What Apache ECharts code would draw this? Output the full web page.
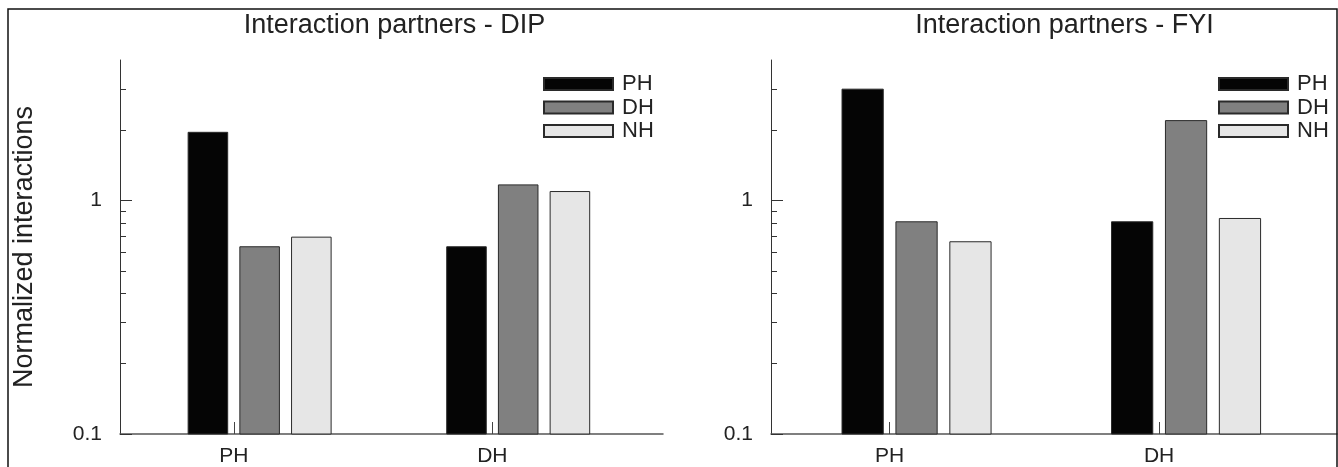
<!DOCTYPE html>
<html><head><meta charset="utf-8">
<script src="https://cdn.jsdelivr.net/npm/echarts@6/dist/echarts.min.js"></script>
<style>html,body{margin:0;padding:0;background:#fff}#c{width:1338px;height:467px}</style>
</head><body><div id="c"></div>
<script>
// ---- data ----
const categories = ['PH', 'DH'];
const seriesNames = ['PH', 'DH', 'NH'];
const panelTitles = ['Interaction partners - DIP', 'Interaction partners - FYI'];
const yAxisTitle = 'Normalized interactions';
const dipPH = [1.96, 0.634];
const dipDH = [0.634, 1.167];
const dipNH = [0.697, 1.093];
const fyiPH = [3.00, 0.811];
const fyiDH = [0.811, 2.20];
const fyiNH = [0.666, 0.838];
const yTickLabels = [0.1, 1];
const yMinorTicks = [0.2, 0.3, 0.4, 0.5, 0.6, 0.7, 0.8, 0.9, 2, 3];
const yMajorTicks = [0.1, 1];

// ---- style / layout ----
const FONT = 'Liberation Sans, Arial, sans-serif';
const TXT = '#222';
const Y_MIN = 0.1, Y_MAX = 4;
const X_MIN = 0.56, X_MAX = 2.66;
const BAR_W = 0.153;
const slotOffsets = [-0.1, 0.1, 0.3];
const colors = ['#050505', '#808080', '#e6e6e6'];
const grids = [
  {left: 120, top: 60, width: 543, height: 375},
  {left: 771, top: 60, width: 566, height: 375}
];
const titleCenters = [389.5, 1059.5];
const legendLefts = [538, 1213];

const chart = echarts.init(document.getElementById('c'), null, {renderer: 'canvas'});

function xAxis(gi) {
  return {
    type: 'value', gridIndex: gi, min: X_MIN, max: X_MAX,
    axisLine: {show: true, onZero: false, lineStyle: {color: '#555', width: 1.5}},
    axisTick: {show: true, inside: true, length: 12, customValues: [1, 2], lineStyle: {color: '#444', width: 1}},
    axisLabel: {customValues: [1, 2], formatter: v => categories[Math.round(v) - 1], fontSize: 21, margin: 12, color: TXT, fontFamily: FONT},
    splitLine: {show: false}
  };
}
function yAxisMain(gi, withName) {
  const a = {
    type: 'log', logBase: 10, gridIndex: gi, min: Y_MIN, max: Y_MAX, position: 'left',
    axisLine: {show: true, lineStyle: {color: '#333', width: 1}},
    axisTick: {show: true, inside: true, length: 6, customValues: yMinorTicks, lineStyle: {color: '#333', width: 1}},
    axisLabel: {customValues: yTickLabels, formatter: v => String(Number(v.toPrecision(3))), fontSize: 21, margin: 18, color: TXT, fontFamily: FONT},
    splitLine: {show: false}, minorTick: {show: false}
  };
  if (withName) {
    a.name = yAxisTitle;
    a.nameLocation = 'middle';
    a.nameGap = 82;
    a.nameTextStyle = {fontSize: 27, color: TXT, fontFamily: FONT};
  }
  return a;
}
function yAxisMajor(gi) {
  return {
    type: 'log', logBase: 10, gridIndex: gi, min: Y_MIN, max: Y_MAX, position: 'left',
    axisLine: {show: false},
    axisTick: {show: true, inside: true, length: 12, customValues: yMajorTicks, lineStyle: {color: '#333', width: 1}},
    axisLabel: {show: false}, splitLine: {show: false}
  };
}
function barSeries(name, values, slot, gi) {
  return {
    type: 'custom', name: name, xAxisIndex: gi, yAxisIndex: gi * 2,
    itemStyle: {color: colors[slot], borderColor: '#2a2a2a', borderWidth: 1},
    data: values.map((v, i) => [i + 1, v]),
    renderItem: function (params, api) {
      const x = api.value(0) + slotOffsets[slot];
      const top = api.coord([x, api.value(1)]);
      const base = api.coord([x, Y_MIN]);
      const w = api.size([BAR_W, 0])[0];
      return {type: 'rect', shape: {x: top[0] - w / 2, y: top[1], width: w, height: base[1] - top[1]}, style: api.style()};
    }
  };
}
function legend(gi) {
  return {
    orient: 'vertical', left: legendLefts[gi], top: 68,
    itemWidth: 69, itemHeight: 12, itemGap: 1.5, icon: 'rect',
    data: seriesNames,
    textStyle: {fontSize: 22, lineHeight: 20, color: TXT, fontFamily: FONT, padding: [0, 0, 0, 4]},
    selectedMode: false
  };
}

const option = {
  backgroundColor: '#fff',
  animation: false,
  title: panelTitles.map((t, i) => ({
    text: t, left: titleCenters[i], top: 7, textAlign: 'center',
    textStyle: {fontSize: 27, fontWeight: 'normal', color: TXT, fontFamily: FONT}
  })),
  legend: [legend(0), legend(1)],
  grid: grids.map(g => Object.assign({containLabel: false}, g)),
  xAxis: [xAxis(0), xAxis(1)],
  yAxis: [yAxisMain(0, true), yAxisMajor(0), yAxisMain(1, false), yAxisMajor(1)],
  series: [
    barSeries(seriesNames[0], dipPH, 0, 0),
    barSeries(seriesNames[1], dipDH, 1, 0),
    barSeries(seriesNames[2], dipNH, 2, 0),
    barSeries(seriesNames[0], fyiPH, 0, 1),
    barSeries(seriesNames[1], fyiDH, 1, 1),
    barSeries(seriesNames[2], fyiNH, 2, 1)
  ],
  graphic: [{
    type: 'rect', silent: true, z: 100,
    shape: {x: 8, y: 9, width: 1329, height: 500},
    style: {fill: 'none', stroke: '#111', lineWidth: 1.5}
  }]
};
chart.setOption(option);
</script>
</body></html>
